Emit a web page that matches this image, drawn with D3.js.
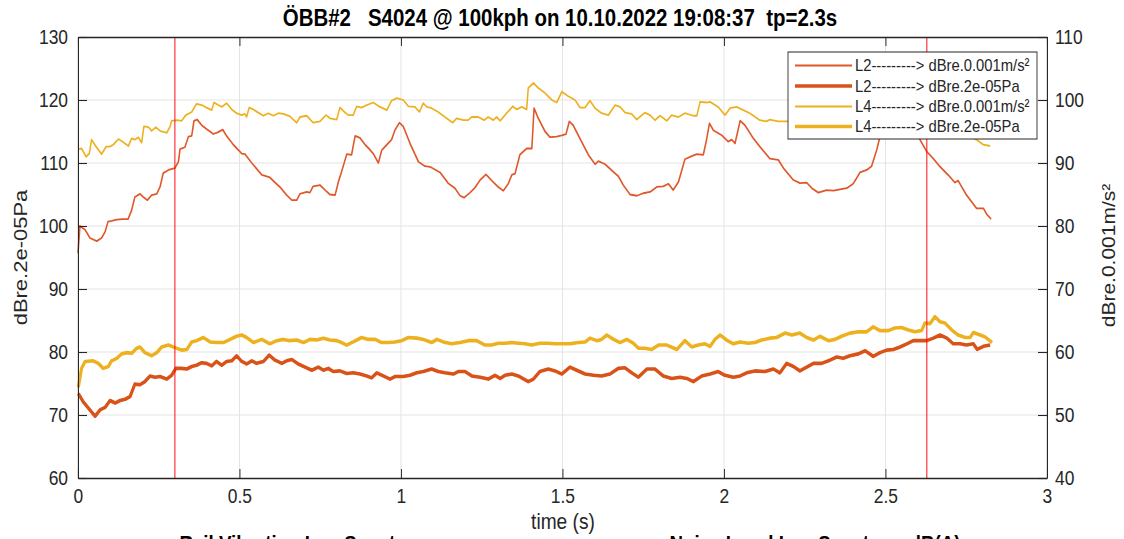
<!DOCTYPE html>
<html>
<head>
<meta charset="utf-8">
<script src="https://cdn.jsdelivr.net/npm/d3@7"></script>
<style>
  html, body { margin: 0; padding: 0; background: #fff; }
  svg { display: block; }
  text { font-family: "Liberation Sans", Arial, sans-serif; fill: #262626; }
</style>
</head>
<body>
<svg id="chart"></svg>
<script>
// time stamps (s) and levels
const tL2acc = [0.000,0.006,0.022,0.037,0.058,0.073,0.084,0.093,0.104,0.120,0.139,0.155,0.166,0.176,0.192,0.202,0.215,0.228,0.244,0.254,0.264,0.280,0.300,0.311,0.316,0.331,0.342,0.352,0.359,0.369,0.383,0.398,0.419,0.434,0.448,0.460,0.481,0.507,0.517,0.538,0.569,0.594,0.610,0.625,0.646,0.662,0.677,0.687,0.708,0.718,0.728,0.749,0.765,0.780,0.796,0.806,0.816,0.832,0.847,0.858,0.873,0.889,0.904,0.914,0.930,0.940,0.956,0.971,0.981,0.995,1.007,1.028,1.054,1.074,1.090,1.121,1.146,1.167,1.183,1.195,1.214,1.229,1.245,1.263,1.281,1.301,1.317,1.332,1.343,1.353,1.368,1.389,1.405,1.412,1.425,1.446,1.461,1.482,1.498,1.511,1.521,1.533,1.554,1.580,1.601,1.611,1.632,1.657,1.673,1.688,1.709,1.730,1.750,1.771,1.792,1.812,1.828,1.843,1.859,1.879,1.900,1.916,1.936,1.946,1.955,1.967,1.993,2.013,2.024,2.034,2.050,2.065,2.091,2.111,2.142,2.168,2.184,2.215,2.235,2.256,2.272,2.292,2.318,2.339,2.359,2.380,2.400,2.421,2.442,2.457,2.473,2.483,2.514,2.545,2.576,2.601,2.628,2.648,2.669,2.694,2.715,2.725,2.751,2.782,2.803,2.813,2.827];
const vL2acc = [75.7,80.0,79.4,78.1,77.6,78.1,79.1,80.7,80.8,81.0,81.1,81.1,82.5,84.6,85.1,84.6,84.1,84.9,85.1,86.2,88.4,88.9,89.2,90.2,92.2,92.5,94.2,94.3,96.7,96.9,96.0,95.4,94.6,94.9,95.3,94.3,92.9,91.5,91.4,90.0,88.1,87.7,86.9,86.2,84.9,84.1,84.1,85.1,85.4,85.3,86.3,86.5,85.7,85.0,84.9,87.0,88.6,91.4,91.3,94.3,94.0,92.9,92.1,91.5,90.0,92.0,92.9,93.7,95.2,96.4,95.8,93.1,90.2,89.5,89.4,88.5,86.8,86.0,84.8,84.5,85.3,86.1,87.3,88.2,87.2,86.2,85.6,86.7,88.1,88.3,91.3,92.3,92.3,98.7,97.1,95.0,94.1,94.2,94.4,94.6,96.6,96.0,93.9,91.3,89.8,90.3,89.8,88.6,87.9,86.5,85.0,84.8,85.2,85.4,86.2,86.3,86.7,85.7,87.0,90.6,91.1,91.4,91.3,93.7,96.3,95.2,94.4,93.4,93.7,93.1,96.7,96.0,93.9,92.6,90.7,90.5,89.2,87.3,86.8,86.9,86.0,85.3,85.7,85.6,85.8,86.0,86.7,88.5,88.9,89.5,92.1,94.2,96.0,96.5,95.5,94.2,91.8,90.7,89.4,88.1,86.9,87.2,84.9,82.8,82.8,81.9,81.1];

const tL4acc = [0.001,0.011,0.025,0.035,0.042,0.056,0.073,0.087,0.099,0.109,0.125,0.135,0.156,0.166,0.176,0.187,0.197,0.204,0.218,0.228,0.241,0.254,0.275,0.285,0.290,0.306,0.321,0.334,0.352,0.367,0.383,0.398,0.414,0.421,0.434,0.445,0.460,0.476,0.491,0.507,0.517,0.522,0.530,0.543,0.558,0.574,0.589,0.605,0.620,0.636,0.656,0.677,0.687,0.708,0.728,0.749,0.768,0.780,0.801,0.811,0.827,0.837,0.852,0.863,0.878,0.894,0.914,0.935,0.956,0.971,0.987,1.007,1.023,1.043,1.057,1.069,1.080,1.095,1.115,1.136,1.160,1.172,1.193,1.208,1.219,1.239,1.257,1.270,1.286,1.296,1.307,1.327,1.346,1.358,1.374,1.389,1.394,1.410,1.425,1.446,1.467,1.482,1.498,1.518,1.539,1.554,1.570,1.585,1.601,1.621,1.642,1.663,1.678,1.694,1.714,1.730,1.755,1.771,1.786,1.802,1.823,1.838,1.859,1.879,1.905,1.916,1.926,1.946,1.957,1.982,2.003,2.019,2.039,2.055,2.080,2.111,2.132,2.142,2.168,2.199,2.266,2.328,2.390,2.452,2.514,2.576,2.638,2.700,2.746,2.782,2.803,2.824];
const vL4acc = [92.2,92.3,91.0,91.5,93.7,92.6,91.4,92.6,92.6,92.9,93.8,93.5,92.7,93.9,93.7,94.1,93.2,95.8,95.7,95.1,95.7,95.1,94.8,95.8,96.7,96.8,96.7,97.6,98.1,99.4,99.2,98.8,98.4,99.6,99.2,98.9,99.5,98.5,97.9,97.6,97.8,97.3,98.8,98.5,98.0,97.5,97.9,97.5,97.9,97.8,97.4,96.4,97.3,97.5,96.4,96.6,97.6,97.1,96.9,98.8,98.0,97.6,97.6,99.0,98.8,99.2,99.6,98.9,98.4,99.9,100.3,100.0,99.0,98.9,98.1,99.5,98.9,98.7,98.1,97.3,96.4,97.1,96.8,96.8,97.3,97.3,96.8,97.3,96.8,97.3,96.7,97.9,99.0,98.5,98.9,98.5,101.9,102.7,101.9,101.1,100.0,99.6,101.3,100.6,100.0,98.8,98.8,99.9,98.7,97.9,97.6,99.2,98.9,98.0,97.8,96.9,98.0,97.6,96.8,97.5,96.7,97.6,97.3,97.9,97.5,97.5,99.7,99.6,99.7,98.9,97.6,98.7,98.9,98.5,97.9,96.8,96.6,96.9,96.6,96.6,96.5,96.8,96.2,96.9,96.5,95.8,95.5,94.8,94.5,93.7,92.9,92.7];

const tL2pa = [0.001,0.016,0.037,0.053,0.068,0.084,0.099,0.115,0.130,0.146,0.161,0.176,0.192,0.207,0.223,0.238,0.254,0.275,0.290,0.303,0.321,0.337,0.352,0.367,0.383,0.398,0.414,0.429,0.445,0.460,0.476,0.491,0.507,0.522,0.538,0.553,0.574,0.592,0.610,0.631,0.646,0.662,0.682,0.703,0.724,0.744,0.760,0.775,0.790,0.811,0.832,0.852,0.873,0.894,0.909,0.925,0.945,0.966,0.981,1.007,1.028,1.049,1.069,1.095,1.115,1.136,1.162,1.177,1.198,1.219,1.245,1.270,1.291,1.307,1.322,1.343,1.363,1.394,1.410,1.430,1.456,1.477,1.498,1.523,1.544,1.570,1.596,1.621,1.647,1.673,1.693,1.714,1.735,1.761,1.786,1.812,1.838,1.864,1.885,1.905,1.931,1.957,1.982,2.003,2.029,2.050,2.070,2.096,2.127,2.153,2.173,2.194,2.215,2.235,2.256,2.277,2.302,2.328,2.349,2.369,2.390,2.416,2.437,2.462,2.483,2.504,2.524,2.545,2.566,2.586,2.607,2.628,2.648,2.669,2.690,2.710,2.731,2.751,2.772,2.784,2.803,2.824];
const vL2pa = [73.4,72.1,70.8,69.8,70.8,71.2,72.3,71.9,72.3,72.5,72.9,74.9,74.8,75.3,76.2,76.0,76.1,75.7,76.3,77.4,77.4,77.3,77.7,77.9,78.3,78.2,77.8,78.5,77.9,78.5,78.6,79.4,78.5,78.1,78.6,78.2,78.5,79.5,78.7,78.2,78.6,78.8,78.1,77.6,77.1,77.6,77.1,77.4,76.9,77.0,76.6,76.7,76.5,76.2,75.9,76.7,76.2,75.7,76.1,76.1,76.3,76.7,76.9,77.3,76.9,76.7,76.5,76.9,76.9,76.2,76.0,75.7,76.3,75.8,76.3,76.5,76.2,75.3,75.7,76.9,77.3,77.0,76.5,77.6,77.1,76.5,76.3,76.2,76.5,77.4,77.5,76.7,76.0,77.3,77.3,76.2,75.8,76.0,75.8,75.3,76.2,76.5,76.9,76.3,76.0,76.2,76.7,77.0,76.9,77.3,76.7,78.2,77.7,77.0,77.6,78.2,78.2,78.7,79.2,79.0,79.4,79.7,80.2,79.3,79.9,80.3,80.4,80.8,81.3,81.8,81.8,81.8,82.2,82.7,82.2,81.3,81.3,81.1,81.3,80.4,80.9,81.1];

const tL4pa = [0.001,0.011,0.022,0.047,0.063,0.078,0.094,0.104,0.120,0.135,0.151,0.166,0.182,0.192,0.207,0.228,0.244,0.259,0.280,0.300,0.321,0.337,0.352,0.367,0.388,0.409,0.429,0.450,0.471,0.491,0.507,0.522,0.543,0.569,0.594,0.615,0.636,0.656,0.677,0.698,0.718,0.739,0.760,0.780,0.801,0.816,0.832,0.852,0.878,0.899,0.920,0.940,0.961,0.981,1.002,1.023,1.049,1.069,1.095,1.111,1.131,1.157,1.183,1.208,1.234,1.260,1.281,1.301,1.322,1.343,1.363,1.384,1.405,1.430,1.456,1.477,1.503,1.523,1.549,1.570,1.585,1.606,1.621,1.637,1.658,1.678,1.699,1.719,1.735,1.755,1.776,1.797,1.823,1.854,1.879,1.900,1.920,1.941,1.957,1.972,1.988,2.008,2.029,2.050,2.075,2.096,2.117,2.142,2.163,2.189,2.210,2.235,2.256,2.277,2.297,2.323,2.344,2.364,2.390,2.416,2.442,2.462,2.483,2.509,2.529,2.550,2.571,2.591,2.612,2.622,2.638,2.653,2.669,2.684,2.705,2.725,2.746,2.762,2.772,2.793,2.808,2.830];
const vL4pa = [74.4,77.4,78.5,78.6,78.2,77.4,77.7,78.6,79.0,79.7,79.9,79.8,80.6,80.8,79.9,79.4,79.9,80.8,81.1,80.7,80.3,80.4,81.6,81.8,82.3,81.6,81.5,81.5,82.0,82.5,82.7,82.3,81.5,82.0,81.3,81.8,82.0,81.8,81.9,81.5,82.0,81.9,82.2,81.9,81.8,81.5,81.1,81.6,82.3,82.0,82.0,81.5,81.5,81.6,81.8,82.3,82.2,82.0,81.5,82.0,81.6,81.3,81.5,81.8,81.8,81.1,81.1,81.4,81.4,81.5,81.4,81.3,81.1,81.4,81.4,81.3,81.3,81.3,81.5,81.6,82.2,81.8,82.0,82.7,82.0,81.5,82.0,81.4,80.6,80.6,80.4,81.1,81.1,80.4,81.8,80.8,81.1,81.3,80.9,82.0,82.7,81.9,81.3,81.6,81.4,81.5,81.9,82.2,82.3,83.0,82.7,83.0,82.3,81.9,82.5,81.8,82.0,82.5,83.0,83.2,83.2,84.0,83.4,83.4,83.8,83.9,83.5,83.2,83.4,84.6,84.5,85.6,84.8,84.6,83.5,82.7,82.3,82.3,83.1,82.7,82.4,81.5];

const markerTimes = [0.30, 2.628];
const xTicks = [0, 0.5, 1, 1.5, 2, 2.5, 3];
const yLeftTicks = [60, 70, 80, 90, 100, 110, 120, 130];
const yRightTicks = [40, 50, 60, 70, 80, 90, 100, 110];
const legendLabels = [
  "L2---------> dBre.0.001m/s\u00b2",
  "L2---------> dBre.2e-05Pa",
  "L4---------> dBre.0.001m/s\u00b2",
  "L4---------> dBre.2e-05Pa"
];

// picture is squeezed horizontally, draw in a wider viewBox
const k = 0.87;
const width = 1124, height = 539;
const W = width / k;
const px = v => v / k;

const margin = { left: px(78), right: px(1047), top: 37, bottom: 478 };

const svg = d3.select("#chart")
  .attr("width", width).attr("height", height)
  .attr("viewBox", `0 0 ${W} ${height}`)
  .attr("preserveAspectRatio", "none");

const x = d3.scaleLinear().domain([0, 3]).range([margin.left, margin.right]);
const yL = d3.scaleLinear().domain([60, 130]).range([margin.bottom, margin.top]);
const yR = d3.scaleLinear().domain([40, 110]).range([margin.bottom, margin.top]);

// grid
const grid = svg.append("g");
grid.selectAll(".gx").data(xTicks.slice(1, -1)).enter().append("line")
  .attr("x1", d => x(d)).attr("x2", d => x(d))
  .attr("y1", margin.top).attr("y2", margin.bottom)
  .attr("stroke", "#e3e3e3").attr("stroke-width", 1.1);
grid.selectAll(".gy").data(yLeftTicks.slice(1, -1)).enter().append("line")
  .attr("x1", margin.left).attr("x2", margin.right)
  .attr("y1", d => yL(d)).attr("y2", d => yL(d))
  .attr("stroke", "#e3e3e3").attr("stroke-width", 1.1);

const zip = (ts, vs) => ts.map((t, i) => [t, vs[i]]);
const lineR = d3.line().x(d => x(d[0])).y(d => yR(d[1]));
const lineL = d3.line().x(d => x(d[0])).y(d => yL(d[1]));

const series = [
  { data: zip(tL2acc, vL2acc), gen: lineR, color: "#e0572a", w: 1.8 },
  { data: zip(tL2pa, vL2pa), gen: lineL, color: "#d95319", w: 3.6 },
  { data: zip(tL4acc, vL4acc), gen: lineR, color: "#edb120", w: 1.8 },
  { data: zip(tL4pa, vL4pa), gen: lineL, color: "#edb120", w: 3.6 }
];

series.forEach(s => {
  svg.append("path")
    .datum(s.data)
    .attr("d", s.gen)
    .attr("fill", "none")
    .attr("stroke", s.color)
    .attr("stroke-width", s.w)
    .attr("stroke-linejoin", "round");
});

// red markers
svg.selectAll(".marker").data(markerTimes).enter().append("line")
  .attr("x1", d => x(d)).attr("x2", d => x(d))
  .attr("y1", margin.top).attr("y2", margin.bottom)
  .attr("stroke", "#ff0000").attr("stroke-width", 1.1);

// axes
const tickLen = 9;
const xAxisB = d3.axisBottom(x).tickValues(xTicks).tickSizeInner(-tickLen).tickSizeOuter(0).tickPadding(11).tickFormat(d3.format("~g"));
const xAxisT = d3.axisTop(x).tickValues(xTicks).tickSizeInner(-tickLen).tickSizeOuter(0).tickFormat("");
const yAxisL = d3.axisLeft(yL).tickValues(yLeftTicks).tickSizeInner(-px(tickLen)).tickSizeOuter(0).tickPadding(px(10));
const yAxisR = d3.axisRight(yR).tickValues(yRightTicks).tickSizeInner(-px(tickLen)).tickSizeOuter(0).tickPadding(px(8));

function style(g) {
  g.select(".domain").attr("stroke", "#262626").attr("stroke-width", 1.3);
  g.selectAll(".tick line").attr("stroke", "#262626").attr("stroke-width", 1.1);
  g.selectAll(".tick text").attr("fill", "#262626").style("font-size", "20px")
    .style("font-family", "'Liberation Sans', Arial, sans-serif");
}

svg.append("g").attr("transform", `translate(0,${margin.bottom})`).call(xAxisB).call(style);
svg.append("g").attr("transform", `translate(0,${margin.top})`).call(xAxisT).call(style);
svg.append("g").attr("transform", `translate(${margin.left},0)`).call(yAxisL).call(style);
svg.append("g").attr("transform", `translate(${margin.right},0)`).call(yAxisR).call(style);

// titles and labels
svg.append("text")
  .attr("x", px(560)).attr("y", 26)
  .attr("text-anchor", "middle")
  .style("font-size", "23.5px").style("font-weight", "bold")
  .style("fill", "#000")
  .attr("xml:space", "preserve")
  .text("\u00d6BB#2   S4024 @ 100kph on 10.10.2022 19:08:37  tp=2.3s");

svg.append("text")
  .attr("x", px(563)).attr("y", 529)
  .attr("text-anchor", "middle")
  .style("font-size", "22px")
  .text("time (s)");

svg.append("text")
  .attr("transform", `translate(${px(27)},${(margin.top + margin.bottom) / 2}) rotate(-90)`)
  .attr("text-anchor", "middle")
  .style("font-size", "22px")
  .text("dBre.2e-05Pa");

svg.append("text")
  .attr("transform", `translate(${px(1115)},${(margin.top + margin.bottom) / 2 - 2}) rotate(-90)`)
  .attr("text-anchor", "middle")
  .style("font-size", "21px")
  .text("dBre.0.001m/s\u00b2");

// titles of the plots below, mostly cut off by the picture edge
svg.append("text")
  .attr("x", px(305)).attr("y", 551)
  .attr("text-anchor", "middle")
  .style("font-size", "21.5px").style("font-weight", "bold").style("fill", "#000")
  .text("Rail Vibration Log Spectrum");
svg.append("text")
  .attr("x", px(815)).attr("y", 551)
  .attr("text-anchor", "middle")
  .style("font-size", "21.5px").style("font-weight", "bold").style("fill", "#000")
  .text("Noise Level Log Spectrum dB(A)");

// legend
const lg = svg.append("g");
lg.append("rect")
  .attr("x", px(788)).attr("y", 52)
  .attr("width", px(249)).attr("height", 87)
  .attr("fill", "#fff").attr("stroke", "#262626").attr("stroke-width", 1);

const rowY = [65.5, 86, 106.5, 126.5];
series.forEach((s, i) => {
  lg.append("line")
    .attr("x1", px(795)).attr("x2", px(852))
    .attr("y1", rowY[i]).attr("y2", rowY[i])
    .attr("stroke", s.color).attr("stroke-width", s.w);
  lg.append("text")
    .attr("x", px(855)).attr("y", rowY[i] + 6)
    .style("font-size", "17px")
    .text(legendLabels[i]);
});
</script>
</body>
</html>
